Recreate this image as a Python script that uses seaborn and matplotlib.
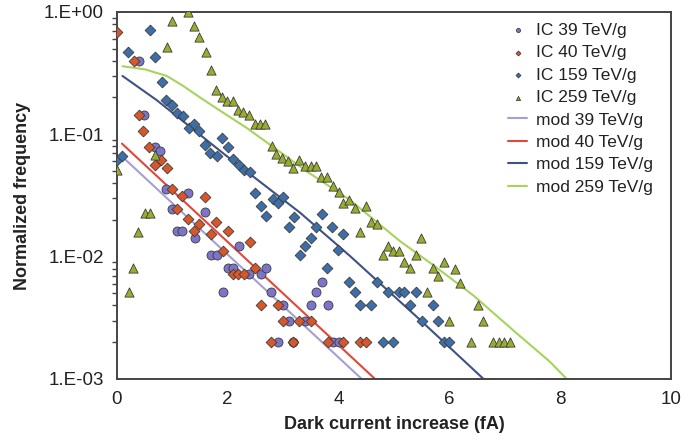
import seaborn as sns
import numpy as np
import pandas as pd
import matplotlib
matplotlib.use("Agg")
import matplotlib.pyplot as plt
from matplotlib.ticker import FixedLocator, FixedFormatter, LogLocator, NullFormatter

ic39_x = [0.40, 0.49, 0.69, 0.78, 0.89, 1.29, 0.99, 1.59, 1.08, 1.18, 1.41, 1.70, 1.80, 2.21,
          1.91, 2.00, 2.10, 2.39, 2.60, 2.70, 2.79, 2.99, 3.11, 3.39, 2.90, 3.18, 3.50, 3.59,
          3.70, 3.81, 3.90, 4.01]
ic39_y = [0.40, 0.145, 0.079, 0.073, 0.0354, 0.033, 0.0243, 0.0231, 0.0162, 0.0162, 0.0143,
          0.0103, 0.0103, 0.0122, 0.0051, 0.0081, 0.0081, 0.0072, 0.0072, 0.0081, 0.0051,
          0.0040, 0.0030, 0.0030, 0.002, 0.002, 0.0040, 0.0051, 0.0062, 0.0040, 0.002, 0.002]

ic40_x = [0.0, 0.30, 0.40, 0.47, 0.58, 0.80, 0.69, 0.90, 0.99, 1.18, 1.08, 1.59, 1.29, 1.49,
          1.78, 1.40, 1.70, 2.00, 1.91, 2.41, 2.09, 2.19, 2.30, 2.49, 2.60, 2.90, 2.99, 3.29,
          3.50, 2.79, 3.18, 3.81, 4.09, 4.39, 4.49]
ic40_y = [0.68, 0.40, 0.145, 0.106, 0.079, 0.062, 0.0557, 0.053, 0.0354, 0.0316, 0.0246,
          0.0307, 0.0204, 0.0184, 0.0192, 0.0162, 0.0152, 0.0162, 0.0111, 0.0132, 0.0072,
          0.0072, 0.0072, 0.0081, 0.0040, 0.0040, 0.0030, 0.0030, 0.0030, 0.002, 0.002,
          0.002, 0.002, 0.002, 0.002]

ic159_x = [0.0, 0.09, 0.20, 0.59, 0.69, 0.81, 0.88, 0.99, 1.09, 1.19, 1.30, 1.40, 1.49, 1.59,
           1.68, 1.80, 1.90, 2.01, 2.10, 2.20, 2.30, 2.41, 2.50, 2.60, 2.70, 2.81, 2.91, 3.00,
           3.11, 3.20, 3.30, 3.39, 3.50, 3.59, 3.70, 3.80, 3.89, 3.99, 4.09, 4.19, 4.30, 4.39,
           4.59, 4.70, 4.89, 5.10, 5.19, 5.40, 5.30, 5.50, 5.70, 5.80, 5.90, 6.00, 4.80, 4.99]
ic159_y = [0.062, 0.066, 0.475, 0.71, 0.427, 0.27, 0.192, 0.175, 0.149, 0.142, 0.113, 0.122,
           0.107, 0.082, 0.071, 0.067, 0.093, 0.079, 0.063, 0.056, 0.0515, 0.049, 0.033, 0.026,
           0.0215, 0.0297, 0.0272, 0.031, 0.0175, 0.0212, 0.0104, 0.0122, 0.0143, 0.0175,
           0.0222, 0.0081, 0.0175, 0.0113, 0.0152, 0.0062, 0.0051, 0.0040, 0.0040, 0.0062,
           0.0051, 0.0051, 0.0051, 0.0051, 0.0040, 0.0030, 0.0040, 0.0030, 0.002, 0.002,
           0.002, 0.002]

ic259_x = [0.0, 0.21, 0.29, 0.38, 0.50, 0.59, 0.69, 0.90, 0.99, 1.28, 1.39, 1.49, 1.60, 1.70,
           1.79, 1.89, 1.98, 2.09, 2.19, 2.28, 2.39, 2.49, 2.58, 2.68, 2.80, 2.88, 2.98, 3.08,
           3.18, 3.29, 3.39, 3.50, 3.59, 3.69, 3.80, 3.90, 4.01, 4.09, 4.19, 4.30, 4.50, 4.39,
           4.58, 4.69, 4.80, 4.89, 4.99, 5.09, 5.19, 5.30, 5.40, 5.49, 5.59, 5.70, 5.80, 5.91,
           6.00, 6.10, 6.20, 6.39, 6.52, 6.61, 6.79, 6.90, 6.99, 7.10]
ic259_y = [0.0515, 0.0051, 0.0081, 0.016, 0.0229, 0.0229, 0.068, 0.52, 0.85, 1.0, 0.77, 0.63,
           0.475, 0.337, 0.231, 0.20, 0.186, 0.186, 0.159, 0.151, 0.145, 0.122, 0.122, 0.122,
           0.080, 0.0697, 0.064, 0.061, 0.053, 0.062, 0.0556, 0.0556, 0.0556, 0.0444, 0.0444,
           0.0377, 0.0336, 0.0276, 0.0288, 0.025, 0.0259, 0.0159, 0.0192, 0.0184, 0.0103,
           0.0122, 0.0111, 0.0111, 0.0091, 0.0081, 0.0103, 0.0143, 0.0051, 0.0081, 0.0070,
           0.0091, 0.0030, 0.0080, 0.0061, 0.002, 0.0040, 0.0030, 0.002, 0.002, 0.002, 0.002]

# model curves
mod39_x = [0.09, 4.42]
mod39_y = [0.066, 0.001]
mod40_x = [0.09, 4.66]
mod40_y = [0.084, 0.001]
mod159_x = [0.1, 0.72, 1.97, 3.30, 4.21, 5.42, 6.62]
mod159_y = [0.30, 0.19, 0.067, 0.023, 0.0101, 0.0032, 0.001]
mod259_x = [0.1, 0.5, 0.90, 1.2, 1.50, 1.9, 2.34, 2.8, 3.42, 3.8, 4.21, 5.11, 5.7, 6.44,
            7.2, 7.82, 8.12]
mod259_y = [0.36, 0.34, 0.30, 0.248, 0.20, 0.152, 0.113, 0.080, 0.050, 0.0385, 0.029,
            0.0134, 0.0086, 0.0048, 0.0024, 0.00138, 0.001]

y_ticks = [1e-3, 1e-2, 1e-1, 1e0]
y_labels = ["1.E-03", "1.E-02", "1.E-01", "1.E+00"]

sns.set_style("white")
plt.rcParams["font.family"] = ["Liberation Sans", "DejaVu Sans"]

fig = plt.figure(figsize=(6.88, 4.44), dpi=100)
ax = fig.add_axes([0.170, 0.1464, 0.805, 0.8266])

edge = "#3c3c3c"
scat = [
    (ic39_x, ic39_y, "IC 39 TeV/g", "o", "#7c74c6", 42),
    (ic40_x, ic40_y, "IC 40 TeV/g", "D", "#d9562b", 30),
    (ic159_x, ic159_y, "IC 159 TeV/g", "D", "#3d6ea8", 30),
    (ic259_x, ic259_y, "IC 259 TeV/g", "^", "#98ad2e", 44),
]
for xs, ys, lab, mk, col, sz in scat:
    df = pd.DataFrame({"x": xs, "y": ys})
    sns.scatterplot(data=df, x="x", y="y", ax=ax, marker=mk, color=col, s=sz,
                    edgecolor=edge, linewidth=0.6, label=lab, zorder=3)

lines = [
    (mod39_x, mod39_y, "mod 39 TeV/g", "#a59fd4"),
    (mod40_x, mod40_y, "mod 40 TeV/g", "#e5463b"),
    (mod159_x, mod159_y, "mod 159 TeV/g", "#3f5288"),
    (mod259_x, mod259_y, "mod 259 TeV/g", "#a6d45c"),
]
for xs, ys, lab, col in lines:
    df = pd.DataFrame({"x": xs, "y": ys})
    sns.lineplot(data=df, x="x", y="y", ax=ax, color=col, linewidth=1.5, label=lab, zorder=2)

ax.set_yscale("log")
ax.set_xlim(0, 10)
ax.set_ylim(1e-3, 1)
ax.set_xticks([0, 2, 4, 6, 8, 10])
ax.yaxis.set_major_locator(FixedLocator(y_ticks))
ax.yaxis.set_major_formatter(FixedFormatter(y_labels))
ax.yaxis.set_minor_locator(LogLocator(base=10, subs=np.arange(2, 10)))
ax.yaxis.set_minor_formatter(NullFormatter())

for sp in ax.spines.values():
    sp.set_color("#444444")
    sp.set_linewidth(1.4)

ax.tick_params(axis="both", which="major", direction="inout", length=7, width=1.2,
               color="#444444", labelsize=13.5, labelcolor="#222222")
ax.tick_params(axis="x", which="major", pad=5)
ax.tick_params(axis="y", which="major", pad=6)
ax.tick_params(axis="y", which="minor", direction="out", length=3.5, width=1.0,
               color="#444444", left=True)

ax.set_xlabel("Dark current increase (fA)", fontsize=13, fontweight="bold", color="#222222",
              labelpad=6)
ax.set_ylabel("Normalized frequency", fontsize=13, fontweight="bold", color="#222222",
              labelpad=9)

handles, labels = ax.get_legend_handles_labels()
leg = ax.legend(handles, labels, loc="upper left", bbox_to_anchor=(0.706, 0.971),
                frameon=False, fontsize=12.5, handlelength=1.1, handletextpad=0.5,
                labelspacing=0.42, borderpad=0, borderaxespad=0, markerscale=0.45)
for t in leg.get_texts():
    t.set_color("#222222")

fig.savefig("out.png", dpi=100)
